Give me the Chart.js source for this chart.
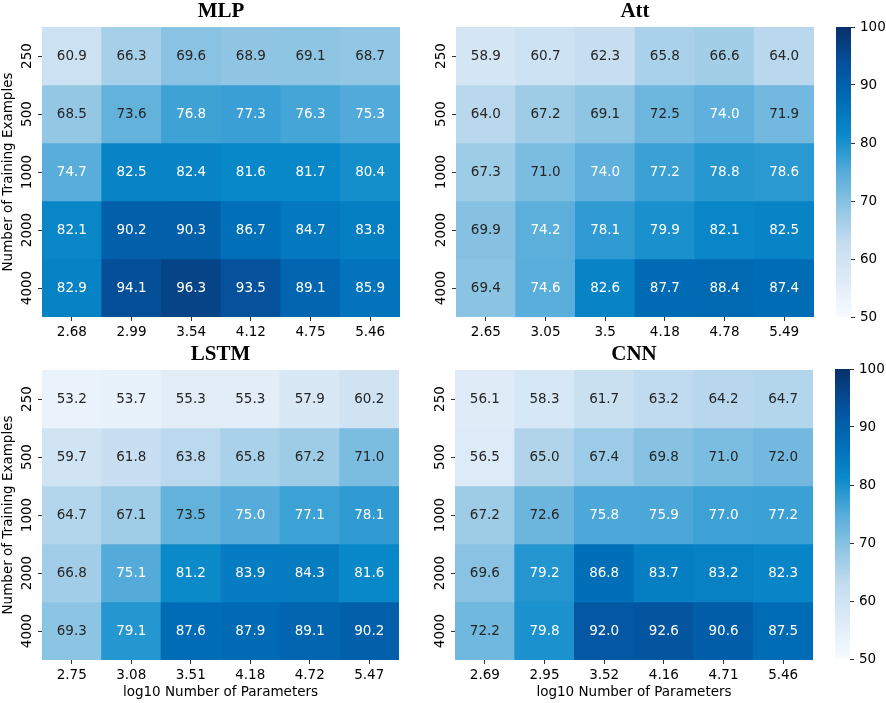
<!DOCTYPE html>
<html>
<head>
<meta charset="utf-8">
<title>Accuracy heatmaps</title>
<script src="https://cdn.jsdelivr.net/npm/chart.js@4.4.1/dist/chart.umd.min.js"></script>
<style>
  body { margin: 0; background: #fff; }
  #wrap { position: relative; width: 886px; height: 703px; }
  #wrap canvas { position: absolute; }
</style>
</head>
<body>
<div id="wrap">
  <canvas id="mlp" width="420" height="340" style="left:0;top:0"></canvas>
  <canvas id="att" width="416" height="340" style="left:420px;top:0"></canvas>
  <canvas id="lstm" width="420" height="363" style="left:0;top:340px"></canvas>
  <canvas id="cnn" width="416" height="363" style="left:420px;top:340px"></canvas>
  <canvas id="cbTop" width="66" height="340" style="left:820px;top:0"></canvas>
  <canvas id="cbBottom" width="66" height="363" style="left:820px;top:340px"></canvas>
</div>
<script>
// rows: number of training examples, columns: log10 number of parameters
const trainSizes = ['250', '500', '1000', '2000', '4000'];

const mlpParams = ['2.68', '2.99', '3.54', '4.12', '4.75', '5.46'];
const attParams = ['2.65', '3.05', '3.5', '4.18', '4.78', '5.49'];
const lstmParams = ['2.75', '3.08', '3.51', '4.18', '4.72', '5.47'];
const cnnParams = ['2.69', '2.95', '3.52', '4.16', '4.71', '5.46'];

const mlpAcc = [
  [60.9, 66.3, 69.6, 68.9, 69.1, 68.7],
  [68.5, 73.6, 76.8, 77.3, 76.3, 75.3],
  [74.7, 82.5, 82.4, 81.6, 81.7, 80.4],
  [82.1, 90.2, 90.3, 86.7, 84.7, 83.8],
  [82.9, 94.1, 96.3, 93.5, 89.1, 85.9]
];
const attAcc = [
  [58.9, 60.7, 62.3, 65.8, 66.6, 64.0],
  [64.0, 67.2, 69.1, 72.5, 74.0, 71.9],
  [67.3, 71.0, 74.0, 77.2, 78.8, 78.6],
  [69.9, 74.2, 78.1, 79.9, 82.1, 82.5],
  [69.4, 74.6, 82.6, 87.7, 88.4, 87.4]
];
const lstmAcc = [
  [53.2, 53.7, 55.3, 55.3, 57.9, 60.2],
  [59.7, 61.8, 63.8, 65.8, 67.2, 71.0],
  [64.7, 67.1, 73.5, 75.0, 77.1, 78.1],
  [66.8, 75.1, 81.2, 83.9, 84.3, 81.6],
  [69.3, 79.1, 87.6, 87.9, 89.1, 90.2]
];
const cnnAcc = [
  [56.1, 58.3, 61.7, 63.2, 64.2, 64.7],
  [56.5, 65.0, 67.4, 69.8, 71.0, 72.0],
  [67.2, 72.6, 75.8, 75.9, 77.0, 77.2],
  [69.6, 79.2, 86.8, 83.7, 83.2, 82.3],
  [72.2, 79.8, 92.0, 92.6, 90.6, 87.5]
];

const vmin = 50;
const vmax = 100;
const colorbarTicks = [50, 60, 70, 80, 90, 100];

// matplotlib "Blues" anchors (used for the text colour rule)
const bluesMpl = ['#f7fbff', '#deebf7', '#c6dbef', '#9ecae1', '#6baed6', '#4292c6', '#2171b5', '#08519c', '#08306b'];
// the same ramp as it appears in the figure (a bit more saturated)
const bluesShown = ['#f7fbff', '#deebf7', '#c6def0', '#91c6e4', '#55acda', '#0a8aca', '#006cb6', '#05509b', '#08306b'];

const FONT_PX = 13.5;

Chart.defaults.font.family = "'DejaVu Sans', sans-serif";
Chart.defaults.font.size = FONT_PX;
Chart.defaults.color = '#000';

function hexRgb(h) {
  return [1, 3, 5].map(i => parseInt(h.substr(i, 2), 16));
}

function rampRgb(ramp, v) {
  let t = (v - vmin) / (vmax - vmin);
  t = Math.min(1, Math.max(0, t)) * (ramp.length - 1);
  const i = Math.min(ramp.length - 2, Math.floor(t));
  const f = t - i;
  const a = hexRgb(ramp[i]), b = hexRgb(ramp[i + 1]);
  return a.map((c, k) => c + (b[k] - c) * f);
}

function blueCss(v) {
  const c = rampRgb(bluesShown, v);
  return 'rgb(' + c.map(Math.round).join(',') + ')';
}

// same rule seaborn uses to pick the annotation colour
function textColour(v) {
  const lin = rampRgb(bluesMpl, v).map(c => {
    c = c / 255;
    return c <= 0.03928 ? c / 12.92 : Math.pow((c + 0.055) / 1.055, 2.4);
  });
  const lum = 0.2126 * lin[0] + 0.7152 * lin[1] + 0.0722 * lin[2];
  return lum < 0.408 ? '#fff' : '#262626';
}

const cellText = {
  id: 'cellText',
  afterDatasetsDraw(chart) {
    const z = chart.config.options.plugins.cellText.values;
    const xs = chart.scales.x, ys = chart.scales.y;
    const ctx = chart.ctx;
    ctx.save();
    ctx.font = FONT_PX + "px 'DejaVu Sans'";
    ctx.textAlign = 'center';
    ctx.textBaseline = 'middle';
    z.forEach((row, r) => {
      row.forEach((v, c) => {
        ctx.fillStyle = textColour(v);
        ctx.fillText(v.toFixed(1), xs.getPixelForValue(c), ys.getPixelForValue(r + 0.5));
      });
    });
    ctx.restore();
  },
  afterDraw(chart) {
    // rotated row labels, like matplotlib's vertical yticklabels
    const ys = chart.scales.y;
    const ctx = chart.ctx;
    ctx.save();
    ctx.font = FONT_PX + "px 'DejaVu Sans'";
    ctx.fillStyle = '#000';
    ctx.textAlign = 'center';
    ctx.textBaseline = 'middle';
    ys.ticks.forEach(t => {
      ctx.save();
      ctx.translate(chart.chartArea.left - 15, ys.getPixelForValue(t.value));
      ctx.rotate(-Math.PI / 2);
      ctx.fillText(t.label, 0, 0);
      ctx.restore();
    });
    ctx.restore();
  }
};

function heatmap(id, title, params, values, lay) {
  const datasets = values.map((row, r) => ({
    data: row.map(() => [r, r + 1]),
    backgroundColor: row.map(blueCss),
    borderWidth: 0,
    grouped: false,
    barPercentage: 1,
    categoryPercentage: 1
  }));
  return new Chart(document.getElementById(id), {
    type: 'bar',
    data: { labels: params, datasets: datasets },
    options: {
      responsive: false,
      animation: false,
      layout: { padding: { left: 0, right: lay.padRight, top: 0, bottom: 0 } },
      plugins: {
        legend: { display: false },
        tooltip: { enabled: false },
        title: {
          display: true,
          text: title,
          fullSize: false,
          color: '#000',
          font: { family: "'Liberation Serif', serif", size: 21, weight: 'bold', lineHeight: 1 },
          padding: { top: lay.titleTop, bottom: lay.titleBottom }
        },
        cellText: { values: values }
      },
      scales: {
        x: {
          type: 'category',
          offset: true,
          grid: { offset: false, drawOnChartArea: false, drawTicks: true, tickLength: 4, color: '#333' },
          border: { display: false },
          ticks: { padding: 3, maxRotation: 0, autoSkip: false },
          title: {
            display: lay.xTitle,
            text: 'log10 Number of Parameters',
            font: { size: FONT_PX },
            padding: { top: 0, bottom: 2 }
          },
          afterFit: s => { s.height = lay.xHeight; }
        },
        y: {
          type: 'linear',
          min: 0,
          max: trainSizes.length,
          reverse: true,
          afterBuildTicks: s => { s.ticks = trainSizes.map((_, i) => ({ value: i + 0.5 })); },
          grid: { drawOnChartArea: false, drawTicks: true, tickLength: 4, color: '#333' },
          border: { display: false },
          ticks: { color: 'rgba(0,0,0,0)', callback: (v, i) => trainSizes[i] },
          title: {
            display: lay.yTitle,
            text: 'Number of Training Examples',
            font: { size: FONT_PX },
            padding: { top: 0, bottom: 0 }
          },
          afterFit: s => { s.width = lay.yWidth; }
        }
      }
    },
    plugins: [cellText]
  });
}

function colorbar(id, lay) {
  return new Chart(document.getElementById(id), {
    type: 'bar',
    data: {
      labels: [''],
      datasets: [{
        data: [[vmin, vmax]],
        borderWidth: 0,
        barPercentage: 1,
        categoryPercentage: 1,
        backgroundColor: ctx => {
          const chart = ctx.chart;
          const ys = chart.scales.y;
          if (!chart.chartArea || !ys) return bluesShown[4];
          const g = chart.ctx.createLinearGradient(0, ys.getPixelForValue(vmin), 0, ys.getPixelForValue(vmax));
          bluesShown.forEach((c, i) => g.addColorStop(i / (bluesShown.length - 1), c));
          return g;
        }
      }]
    },
    options: {
      responsive: false,
      animation: false,
      layout: { padding: { left: lay.padLeft, right: 0, top: lay.padTop, bottom: lay.padBottom } },
      plugins: { legend: { display: false }, tooltip: { enabled: false } },
      scales: {
        x: { type: 'category', display: false, offset: true },
        y: {
          type: 'linear',
          position: 'right',
          min: vmin,
          max: vmax,
          afterBuildTicks: s => { s.ticks = colorbarTicks.map(v => ({ value: v })); },
          grid: { drawOnChartArea: false, drawTicks: true, tickLength: 4, color: '#333' },
          border: { display: false },
          ticks: { padding: 5, font: { size: FONT_PX } },
          afterFit: s => { s.width = lay.yWidth; }
        }
      }
    }
  });
}

heatmap('mlp', 'MLP', mlpParams, mlpAcc,
  { padRight: 20, titleTop: 1, titleBottom: 5, xHeight: 23, yWidth: 42, xTitle: false, yTitle: true });
heatmap('att', 'Att', attParams, attAcc,
  { padRight: 22, titleTop: 1, titleBottom: 5, xHeight: 23, yWidth: 36, xTitle: false, yTitle: false });
heatmap('lstm', 'LSTM', lstmParams, lstmAcc,
  { padRight: 21, titleTop: 4, titleBottom: 5, xHeight: 43, yWidth: 42, xTitle: true, yTitle: true });
heatmap('cnn', 'CNN', cnnParams, cnnAcc,
  { padRight: 23, titleTop: 4, titleBottom: 5, xHeight: 43, yWidth: 35, xTitle: true, yTitle: false });

colorbar('cbTop', { padLeft: 16, padTop: 27, padBottom: 23, yWidth: 35 });
colorbar('cbBottom', { padLeft: 15, padTop: 29, padBottom: 44, yWidth: 36 });
</script>
</body>
</html>
